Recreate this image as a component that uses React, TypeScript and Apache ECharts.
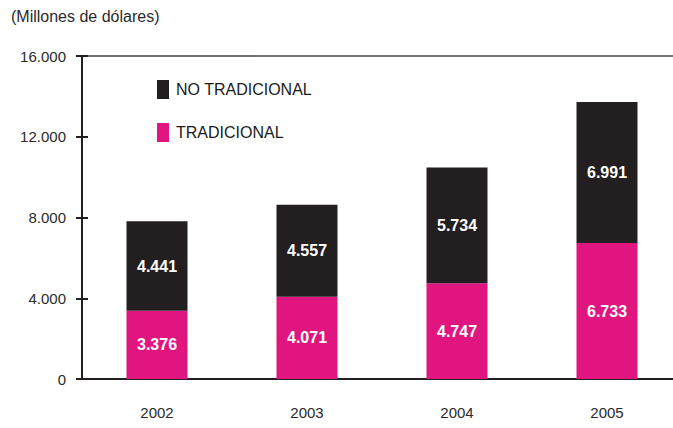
import React, { useEffect, useRef } from "react";
import * as echarts from "echarts";

const years = ["2002", "2003", "2004", "2005"];
const tradicional = [3376, 4071, 4747, 6733];
const noTradicional = [4441, 4557, 5734, 6991];
const title = "(Millones de dólares)";

const fmt = (v: number) => String(Math.round(v)).replace(/\B(?=(\d{3})+(?!\d))/g, ".");

export default function App() {
  const ref = useRef<HTMLDivElement>(null);
  useEffect(() => {
    if (!ref.current) return;
    const chart = echarts.init(ref.current, null, { renderer: "svg" });
    const font = "Liberation Sans, Arial, sans-serif";
    const grid = { left: 82, right: 0, top: 56, bottom: 49 };
    const valueLabel = {
      show: true,
      position: "inside",
      color: "#fff",
      fontSize: 16,
      fontWeight: "bold",
      fontFamily: font,
      formatter: (p: any) => fmt(p.value),
    };
    chart.setOption({
      animation: false,
      textStyle: { fontFamily: font },
      title: {
        text: title,
        left: 11,
        top: 8,
        padding: 0,
        textStyle: { fontSize: 16, fontWeight: "normal", color: "#2a2a2a", fontFamily: font },
      },
      legend: {
        orient: "vertical",
        left: 157,
        top: 80,
        padding: 0,
        itemWidth: 12,
        itemHeight: 19,
        itemGap: 24,
        icon: "rect",
        data: ["NO TRADICIONAL", "TRADICIONAL"],
        textStyle: { fontSize: 16, color: "#1a1a1a", fontFamily: font, padding: [0, 0, 0, 2] },
      },
      grid,
      xAxis: [
        {
          type: "category",
          data: years,
          axisLine: { lineStyle: { color: "#231f20", width: 2 } },
          axisTick: { show: false },
          axisLabel: { fontSize: 15, color: "#2a2a2a", margin: 26, fontFamily: font },
        },
        {
          type: "category",
          position: "top",
          data: years,
          axisLine: { show: true, onZero: false, lineStyle: { color: "#444", width: 1.5 } },
          axisTick: { show: false },
          axisLabel: { show: false },
        },
      ],
      yAxis: [
        {
          type: "value",
          min: 0,
          max: 16000,
          interval: 4000,
          axisLine: { show: true, lineStyle: { color: "#231f20", width: 2 } },
          axisTick: { show: true, length: 6, lineStyle: { color: "#231f20", width: 2 } },
          splitLine: { show: false },
          axisLabel: { fontSize: 15, color: "#2a2a2a", margin: 16, formatter: (v: number) => fmt(v), fontFamily: font },
        },
        {
          type: "value",
          position: "left",
          min: 0,
          max: 16000,
          interval: 4000,
          axisLine: { show: false },
          axisTick: { show: true, inside: true, length: 6, lineStyle: { color: "#231f20", width: 2 } },
          splitLine: { show: false },
          axisLabel: { show: false },
        },
      ],
      series: [
        {
          name: "TRADICIONAL",
          type: "bar",
          stack: "total",
          barWidth: 61,
          data: tradicional,
          itemStyle: { color: "#e0157f" },
          label: valueLabel,
        },
        {
          name: "NO TRADICIONAL",
          type: "bar",
          stack: "total",
          barWidth: 61,
          data: noTradicional,
          itemStyle: { color: "#231f20" },
          label: valueLabel,
        },
      ],
    });
    return () => chart.dispose();
  }, []);
  return (
    <div style={{ position: "fixed", left: 0, top: 0, width: 673, height: 428, overflow: "hidden", background: "#fff" }}>
      <div ref={ref} style={{ width: 682, height: 428 }} />
    </div>
  );
}
